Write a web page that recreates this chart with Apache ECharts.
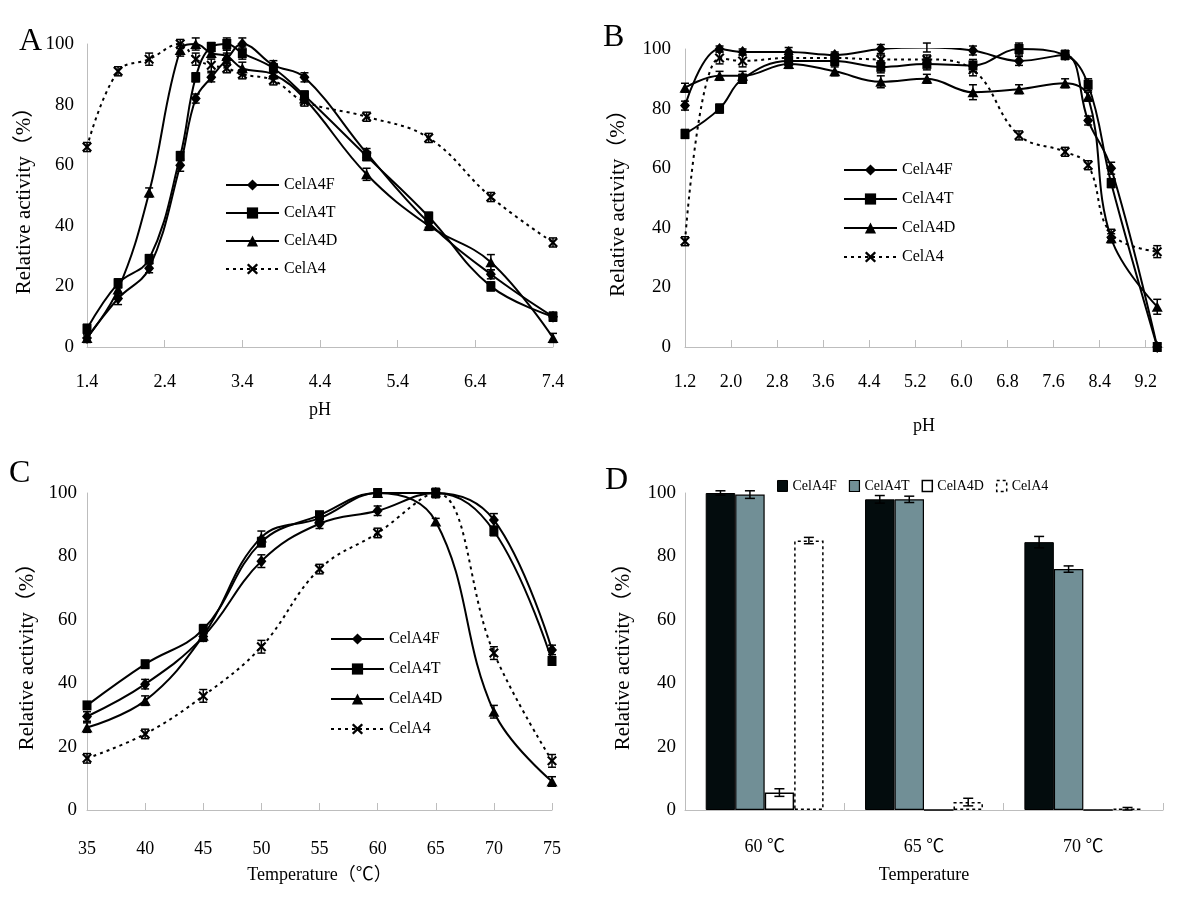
<!DOCTYPE html>
<html>
<head>
<meta charset="utf-8">
<script src="https://cdn.jsdelivr.net/npm/echarts@6/dist/echarts.min.js"></script>
<style>
html,body{margin:0;padding:0;background:#fff;}
.p{position:absolute;width:600px;height:450px;}
</style>
</head>
<body>
<div id="A" class="p" style="left:0;top:0"></div>
<div id="B" class="p" style="left:600px;top:0"></div>
<div id="C" class="p" style="left:0;top:450px"></div>
<div id="D" class="p" style="left:600px;top:450px"></div>
<script>
// ---------------- DATA ----------------
const seriesNames = ['CelA4F', 'CelA4T', 'CelA4D', 'CelA4'];

// Panel A: pH profile
const pH_A   = [1.4, 1.8, 2.2, 2.6, 2.8, 3.0, 3.2, 3.4, 3.8, 4.2, 5.0, 5.8, 6.6, 7.4];
const A_F    = [3, 16, 26, 60, 82, 89, 95, 100, 93, 89, 64, 41, 24, 10];
const A_T    = [6, 21, 29, 63, 89, 99, 100, 97, 92, 83, 63, 43, 20, 10];
const A_D    = [3, 19, 51, 98, 100, 97, 96, 92, 90, 82, 57, 40, 28, 3];
const A_X    = [66, 91, 95, 100, 95, 93, 92, 90, 88, 81, 76, 69, 49.5, 34.5];
const A_Fe   = [1.5, 2, 1.5, 2, 1.5, 1.5, 2, 2, 1.5, 1.5, 1.5, 1.5, 1.5, 1];
const A_Te   = [1.5, 1.5, 1.5, 1.5, 1.5, 1.5, 2, 2, 1.5, 1.5, 1.5, 1.5, 1.5, 1.5];
const A_De   = [1, 1.5, 1.5, 2, 2, 1.5, 2, 2, 1.5, 1.5, 2, 1.5, 2.5, 1.5];
const A_Xe   = [1.5, 1.5, 2, 1.5, 2, 2, 1.5, 1.5, 1.5, 1.5, 1.5, 1.5, 1.5, 1.5];

// Panel B: pH stability
const pH_B   = [1.2, 1.8, 2.2, 3.0, 3.8, 4.6, 5.4, 6.2, 7.0, 7.8, 8.2, 8.6, 9.4];
const B_F    = [81, 100, 99, 99, 98, 100, 100.5, 99.5, 96, 98, 76, 60, 0];
const B_T    = [71.5, 80, 90, 96, 96, 94, 95, 94.5, 100, 98, 88, 55, 0];
const B_D    = [87, 91, 91, 95, 92.5, 89, 90, 85.5, 86.5, 88.5, 84, 36.5, 13.5];
const B_X    = [35.5, 97, 96, 97, 97, 96.5, 96.5, 93, 71, 65.5, 61, 38, 32];
const B_Fe   = [1.5, 1, 1, 1.5, 1, 1.5, 1.5, 1.5, 1.5, 1.5, 1.5, 2, 1];
const B_Te   = [1.5, 1.5, 1.5, 1.5, 1.5, 2, 2, 2, 2, 1.5, 2, 1.5, 1];
const B_De   = [1.5, 1.5, 1.5, 1.5, 1.5, 2, 1.5, 2.5, 1.5, 1.5, 1.5, 1.5, 2.5];
const B_Xe   = [1.5, 2, 2, 1.5, 1.5, 1.5, 1.5, 2, 1.5, 1.5, 1.5, 1.5, 2];

// Panel C: temperature profile
const T_C    = [35, 40, 45, 50, 55, 60, 65, 70, 75];
const C_F    = [29.5, 39.7, 54.7, 78.5, 90.3, 94.4, 100, 91.5, 50.5];
const C_T    = [33, 46, 57, 84.5, 93, 100, 100, 88, 47];
const C_D    = [26, 34.5, 55, 86, 92, 100, 91, 31, 9];
const C_X    = [16.3, 24, 36, 51.5, 76, 87.4, 100, 49.5, 15.5];
const C_Fe   = [1.5, 1.5, 1.5, 2, 1.5, 1.5, 1, 2, 1.5];
const C_Te   = [1, 1, 1.5, 1.5, 1, 1, 1, 1.5, 1];
const C_De   = [1.5, 1.5, 1.5, 2, 1.5, 1, 1, 2, 1.5];
const C_Xe   = [1.5, 1.5, 2, 2, 1.5, 1.5, 1.5, 2, 2];

// Panel D: thermostability
const D_cats = ['60 ℃', '65 ℃', '70 ℃'];
const D_F    = [100, 98, 84.5];
const D_T    = [99.5, 98, 76];
const D_D    = [5.5, 0, 0];
const D_X    = [85, 2.5, 0.4];
const D_Fe   = [0.7, 1.2, 1.8];
const D_Te   = [1.2, 1.0, 1.0];
const D_De   = [1.2, 0, 0];
const D_Xe   = [1.0, 1.2, 0.4];

const yTicks = [0, 20, 40, 60, 80, 100];

// ---------------- STYLE ----------------
const FONT = '"Liberation Serif", "Times New Roman", "Noto Sans CJK SC", serif';
const AXIS_GRAY = '#bdbdbd';
const X_SYMBOL = 'path://M0,1.5L1.5,0L5,3.5L8.5,0L10,1.5L6.5,5L10,8.5L8.5,10L5,6.5L1.5,10L0,8.5L3.5,5Z';
const symbols = {
  CelA4F: {symbol: 'diamond', size: [10, 12]},
  CelA4T: {symbol: 'rect', size: [9, 10]},
  CelA4D: {symbol: 'triangle', size: [11, 10]},
  CelA4:  {symbol: X_SYMBOL, size: [10, 10]}
};

function lineSeries(name, xs, ys) {
  const s = symbols[name];
  return {
    type: 'line', name: name,
    data: xs.map((x, i) => [x, ys[i]]),
    smooth: 0.4,
    symbol: s.symbol, symbolSize: s.size, showAllSymbol: true,
    lineStyle: {color: '#000', width: 2, type: name === 'CelA4' ? [3, 4] : 'solid'},
    itemStyle: {color: '#000', borderWidth: 0},
    z: 3, silent: true, animation: false
  };
}

function errSeries(xs, ys, es) {
  return {
    type: 'custom',
    data: xs.map((x, i) => [x, ys[i], es[i]]),
    renderItem: function (params, api) {
      const x = api.value(0), y = api.value(1), e = api.value(2);
      if (!e) return null;
      const hi = api.coord([x, y + e]), lo = api.coord([x, y - e]);
      const w = 4, st = {stroke: '#000', lineWidth: 1.5};
      return {type: 'group', children: [
        {type: 'line', shape: {x1: hi[0], y1: hi[1], x2: lo[0], y2: lo[1]}, style: st},
        {type: 'line', shape: {x1: hi[0] - w, y1: hi[1], x2: hi[0] + w, y2: hi[1]}, style: st},
        {type: 'line', shape: {x1: lo[0] - w, y1: lo[1], x2: lo[0] + w, y2: lo[1]}, style: st}
      ]};
    },
    z: 5, silent: true, animation: false
  };
}

function yAxisCfg(gap, margin) {
  return {
    type: 'value', min: yTicks[0], max: yTicks[yTicks.length - 1], interval: yTicks[1] - yTicks[0],
    name: 'Relative activity（%）', nameLocation: 'middle', nameGap: gap,
    nameTextStyle: {fontFamily: FONT, fontSize: 21, color: '#000'},
    axisLine: {show: true, lineStyle: {color: AXIS_GRAY, width: 1}},
    axisTick: {show: false},
    splitLine: {show: false},
    axisLabel: {fontFamily: FONT, fontSize: 19, color: '#000', margin: margin}
  };
}

function xValueAxis(min, max, interval, name, nameGap, labelMargin, fmt) {
  return {
    type: 'value', min: min, max: max, interval: interval,
    name: name, nameLocation: 'middle', nameGap: nameGap,
    nameTextStyle: {fontFamily: FONT, fontSize: 18, color: '#000'},
    axisLine: {show: true, onZero: false, lineStyle: {color: AXIS_GRAY, width: 1}},
    axisTick: {show: true, inside: true, length: 7, lineStyle: {color: AXIS_GRAY}},
    splitLine: {show: false},
    axisLabel: {fontFamily: FONT, fontSize: 18, color: '#000', margin: labelMargin, showMaxLabel: true, formatter: fmt}
  };
}

function lineLegend(left, top, gap, w) {
  return {
    orient: 'vertical', left: left, top: top, itemWidth: w, itemHeight: 14, itemGap: gap,
    textStyle: {fontFamily: FONT, fontSize: 16, color: '#000'},
    data: seriesNames, selectedMode: false
  };
}

function letter(t, left, top) {
  return {text: t, left: left, top: top, padding: 0,
    textStyle: {fontFamily: FONT, fontSize: 32, fontWeight: 'normal', color: '#000'}};
}

function gridCfg(left, right, top, bottom) {
  return {left: left, right: right, top: top, bottom: bottom, containLabel: false, outerBoundsMode: 'none'};
}

function buildLinePanel(xs, sets) {
  const out = [];
  sets.forEach(s => out.push(lineSeries(s[0], xs, s[1])));
  sets.forEach(s => out.push(errSeries(xs, s[1], s[2])));
  return out;
}

// ---------------- PANEL A ----------------
const chartA = echarts.init(document.getElementById('A'), null, {renderer: 'canvas'});
chartA.setOption({
  animation: false,
  title: letter('A', 19, 26),
  grid: gridCfg(87, 47, 44, 103),
  legend: lineLegend(220, 172, 12, 53),
  xAxis: xValueAxis(pH_A[0], pH_A[pH_A.length - 1], 1, 'pH', 54, 26, v => v.toFixed(1)),
  yAxis: yAxisCfg(52, 13),
  series: buildLinePanel(pH_A, [['CelA4F', A_F, A_Fe], ['CelA4T', A_T, A_Te], ['CelA4D', A_D, A_De], ['CelA4', A_X, A_Xe]])
});

// ---------------- PANEL B ----------------
const chartB = echarts.init(document.getElementById('B'), null, {renderer: 'canvas'});
const xB = xValueAxis(1.2, 9.5, 0.8, 'pH', 70, 26, v => v.toFixed(1));
xB.axisLabel.showMaxLabel = false;
chartB.setOption({
  animation: false,
  title: letter('B', 3, 22),
  grid: gridCfg(85, 37, 49, 103),
  legend: lineLegend(238, 157, 13, 53),
  xAxis: xB,
  yAxis: yAxisCfg(56, 14),
  series: buildLinePanel(pH_B, [['CelA4F', B_F, B_Fe], ['CelA4T', B_T, B_Te], ['CelA4D', B_D, B_De], ['CelA4', B_X, B_Xe]])
});

// ---------------- PANEL C ----------------
const chartC = echarts.init(document.getElementById('C'), null, {renderer: 'canvas'});
chartC.setOption({
  animation: false,
  title: letter('C', 9, 8),
  grid: gridCfg(87, 48, 43, 90),
  legend: lineLegend(325, 176, 14, 53),
  xAxis: xValueAxis(T_C[0], T_C[T_C.length - 1], 5, 'Temperature（℃）', 56, 30, v => String(v)),
  yAxis: yAxisCfg(48, 10),
  series: buildLinePanel(T_C, [['CelA4F', C_F, C_Fe], ['CelA4T', C_T, C_Te], ['CelA4D', C_D, C_De], ['CelA4', C_X, C_Xe]])
});

// ---------------- PANEL D ----------------
const chartD = echarts.init(document.getElementById('D'), null, {renderer: 'canvas'});
const barStyles = [
  {color: '#030c0d', borderColor: '#000', borderWidth: 1},
  {color: '#718f96', borderColor: '#000', borderWidth: 1.2},
  {color: '#ffffff', borderColor: '#000', borderWidth: 1.5},
  {color: '#ffffff', borderColor: '#000', borderWidth: 1.5, borderType: [3, 3]}
];
const D_vals = [D_F, D_T, D_D, D_X];
const D_errs = [D_Fe, D_Te, D_De, D_Xe];
const CAT_GAP = 0.26;
const dSeries = seriesNames.map((n, i) => ({
  type: 'bar', name: n, data: D_vals[i], itemStyle: barStyles[i],
  barGap: '0%', barCategoryGap: (CAT_GAP * 100) + '%', silent: true, z: 2
}));
const errData = [];
D_vals.forEach((vals, s) => vals.forEach((v, c) => errData.push([c, v, D_errs[s][c], s])));
dSeries.push({
  type: 'custom', data: errData, z: 5, silent: true,
  renderItem: function (params, api) {
    const c = api.value(0), y = api.value(1), e = api.value(2), s = api.value(3);
    if (!e) return null;
    const band = api.size([1, 0])[0];
    const group = band * (1 - CAT_GAP), bw = group / 4;
    const off = -group / 2 + bw * (s + 0.5);
    const hi = api.coord([c, y + e]), lo = api.coord([c, Math.max(0, y - e)]);
    const x = hi[0] + off, w = 5;
    const st = {stroke: '#000', lineWidth: 1.5};
    return {type: 'group', children: [
      {type: 'line', shape: {x1: x, y1: hi[1], x2: x, y2: lo[1]}, style: st},
      {type: 'line', shape: {x1: x - w, y1: hi[1], x2: x + w, y2: hi[1]}, style: st},
      {type: 'line', shape: {x1: x - w, y1: lo[1], x2: x + w, y2: lo[1]}, style: st}
    ]};
  }
});
chartD.setOption({
  animation: false,
  title: letter('D', 5, 15),
  grid: gridCfg(85, 37, 43, 90),
  legend: {
    orient: 'horizontal', left: 172, top: 24, itemWidth: 10, itemHeight: 11, itemGap: 12,
    icon: 'rect', selectedMode: false,
    textStyle: {fontFamily: FONT, fontSize: 14, color: '#000'},
    data: seriesNames.map((n, i) => ({name: n, itemStyle: barStyles[i]}))
  },
  xAxis: {
    type: 'category', data: D_cats, boundaryGap: true,
    name: 'Temperature', nameLocation: 'middle', nameGap: 56,
    nameTextStyle: {fontFamily: FONT, fontSize: 18, color: '#000'},
    axisLine: {show: true, lineStyle: {color: AXIS_GRAY, width: 1}},
    axisTick: {show: true, inside: true, length: 7, alignWithLabel: false, lineStyle: {color: AXIS_GRAY}},
    splitLine: {show: false},
    axisLabel: {fontFamily: FONT, fontSize: 18, color: '#000', margin: 28}
  },
  yAxis: yAxisCfg(51, 9),
  series: dSeries
});
</script>
</body>
</html>
